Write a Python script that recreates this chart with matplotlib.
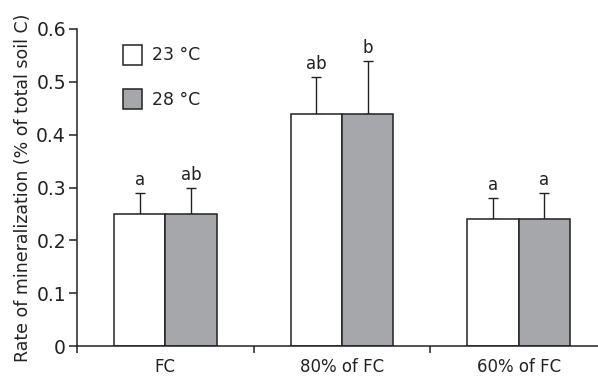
import matplotlib.pyplot as plt
import numpy as np
from matplotlib.patches import Patch

plt.rcParams['font.family'] = ['DejaVu Sans']

groups = ["FC", "80% of FC", "60% of FC"]
temps = ["23 °C", "28 °C"]
rate_23 = [0.25, 0.44, 0.24]
rate_28 = [0.25, 0.44, 0.24]
err_23 = [0.04, 0.07, 0.04]
err_28 = [0.05, 0.10, 0.05]
letters_23 = ["a", "ab", "a"]
letters_28 = ["ab", "b", "a"]

colors = ["white", "#a6a7aa"]
w = 0.29

fig = plt.figure(figsize=(5.98, 3.78), dpi=100)
ax = fig.add_axes([77/598, 32/378, 530/598, 317/378])

x = np.arange(len(groups))
for vals, errs, lets, off, c in [(rate_23, err_23, letters_23, -w/2, colors[0]),
                                 (rate_28, err_28, letters_28, w/2, colors[1])]:
    ax.bar(x + off, vals, w, color=c, edgecolor="#222222", linewidth=1.1, zorder=2)
    ax.errorbar(x + off, vals, yerr=[np.zeros(3), errs], fmt="none", ecolor="#222222",
                elinewidth=1.0, capsize=3.5, capthick=1.0, zorder=1)
    for xi, v, e, l in zip(x + off, vals, errs, lets):
        ax.text(xi, v + e + 0.007, l, ha="center", va="bottom", fontsize=12, color="#222222")

ax.set_xlim(-0.5, 2.5)
ax.set_ylim(0, 0.6)
ax.set_yticks([0, 0.1, 0.2, 0.3, 0.4, 0.5, 0.6])
ax.set_yticklabels(["0", "0.1", "0.2", "0.3", "0.4", "0.5", "0.6"])
ax.set_xticks([-0.5, 0.5, 1.5, 2.5])
ax.set_xticklabels([])
ax.set_xticks(x, minor=True)
ax.set_xticklabels(groups, minor=True)
ax.tick_params(axis="x", which="minor", length=0, labelsize=12, pad=9, colors="#222222")
ax.tick_params(axis="x", which="major", length=5, width=1.1, color="#222222")
ax.tick_params(axis="y", length=6, width=1.1, labelsize=13.5, color="#222222",
               labelcolor="#222222", pad=2)
for s in ["top", "right"]:
    ax.spines[s].set_visible(False)
for s in ["left", "bottom"]:
    ax.spines[s].set_linewidth(1.1)
    ax.spines[s].set_color("#222222")

ax.set_ylabel("Rate of mineralization (% of total soil C)", fontsize=12.5, labelpad=3,
              color="#222222")

handles = [Patch(facecolor=c, edgecolor="#222222", linewidth=1.1) for c in colors]
ax.legend(handles, temps, loc="upper left", bbox_to_anchor=(0.058, 1.0), frameon=False,
          fontsize=12.5, handlelength=1.1, handleheight=1.4, labelspacing=1.4,
          handletextpad=0.55, labelcolor="#222222")

fig.savefig("out.png", dpi=100)
